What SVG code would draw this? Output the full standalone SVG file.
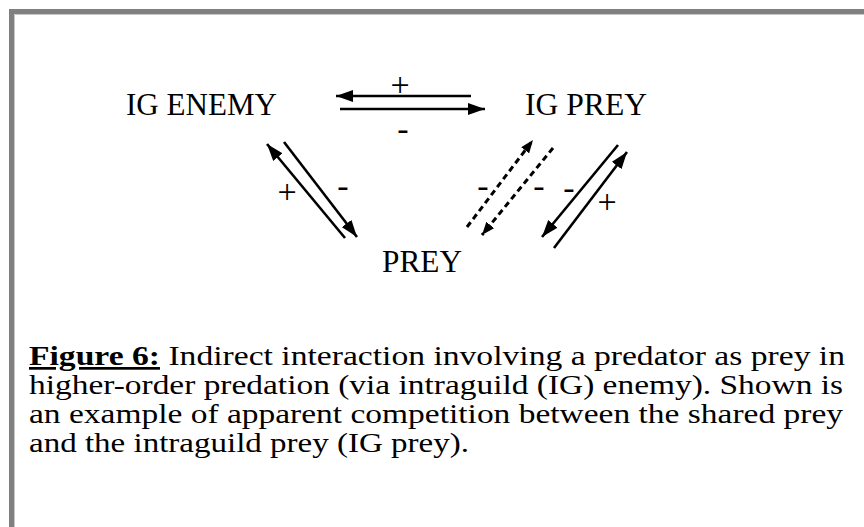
<svg xmlns="http://www.w3.org/2000/svg" width="864" height="527" viewBox="0 0 864 527">
<style>
text{font-family:'Liberation Serif','Times New Roman',Times,serif;fill:#000}
.node{font-size:31px}
.lab{font-size:34px;text-anchor:middle}
.cap{font-size:27px}
.ln{stroke:#000;stroke-width:2.6;fill:none}
.ds{stroke:#000;stroke-width:3;fill:none;stroke-dasharray:6 4}
</style>
<defs>
<marker id="ah" markerUnits="userSpaceOnUse" markerWidth="17" markerHeight="12" refX="17" refY="6" orient="auto">
<path d="M0,0 L17,6 L0,12 Z" fill="#000"/>
</marker>
<marker id="ahs" markerUnits="userSpaceOnUse" markerWidth="13" markerHeight="10" refX="13" refY="5" orient="auto">
<path d="M0,0 L13,5 L0,10 Z" fill="#000"/>
</marker>
</defs>
<rect x="0" y="0" width="864" height="527" fill="#fff"/>
<path d="M11.5,527 V11.5 H864" stroke="#808080" stroke-width="5" fill="none"/>
<path d="M14.5,527 V14.5 H864" stroke="#c8c8c8" stroke-width="1" fill="none"/>

<g id="ig-enemy"><text class="node" x="126" y="115" textLength="151" lengthAdjust="spacingAndGlyphs">IG ENEMY</text></g>
<g id="ig-prey"><text class="node" x="525" y="115" textLength="122" lengthAdjust="spacingAndGlyphs">IG PREY</text></g>
<g id="prey"><text class="node" x="382" y="272" textLength="80" lengthAdjust="spacingAndGlyphs">PREY</text></g>

<g id="connectors">
<path class="ln" d="M471,96 L336,96" marker-end="url(#ah)"/>
<path class="ln" d="M340,109 L485,109" marker-end="url(#ah)"/>
<path class="ln" d="M345,238 L267,144" marker-end="url(#ah)"/>
<path class="ln" d="M284,142 L357,237" marker-end="url(#ah)"/>
<path class="ds" d="M467,227 L533,140" marker-end="url(#ahs)"/>
<path class="ds" d="M553,148 L482,235" marker-end="url(#ahs)"/>
<path class="ln" d="M618,145 L542,237" marker-end="url(#ah)"/>
<path class="ln" d="M554,248 L627,152" marker-end="url(#ah)"/>
</g>

<g id="labels">
<text class="lab" x="400" y="96">+</text>
<text class="lab" x="403" y="140">-</text>
<text class="lab" x="287" y="203">+</text>
<text class="lab" x="343" y="197">-</text>
<text class="lab" x="483" y="197">-</text>
<text class="lab" x="539" y="197">-</text>
<text class="lab" x="569" y="199">-</text>
<text class="lab" x="607" y="213">+</text>
</g>

<g id="caption">
<text class="cap" x="29" y="365" textLength="816" lengthAdjust="spacingAndGlyphs"><tspan font-weight="bold" text-decoration="underline">Figure 6:</tspan> Indirect interaction involving a predator as prey in</text>
<text class="cap" x="29" y="394" textLength="814" lengthAdjust="spacingAndGlyphs">higher-order predation (via intraguild (IG) enemy). Shown is</text>
<text class="cap" x="29" y="423" textLength="814" lengthAdjust="spacingAndGlyphs">an example of apparent competition between the shared prey</text>
<text class="cap" x="29" y="452" textLength="440" lengthAdjust="spacingAndGlyphs">and the intraguild prey (IG prey).</text>
</g>
</svg>
